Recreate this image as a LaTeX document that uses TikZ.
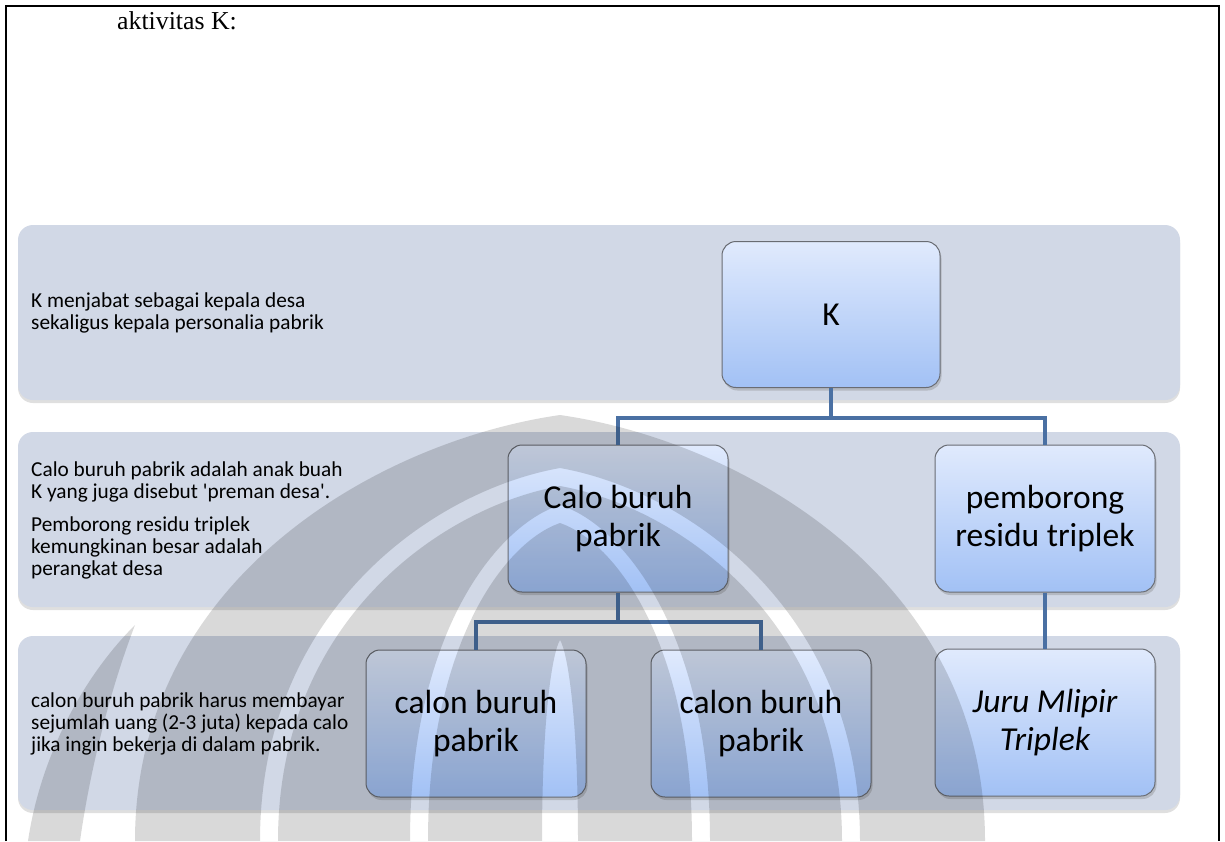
\documentclass[tikz,border=0pt]{standalone}
\usepackage{fontspec}
\setmainfont{Carlito}
\newfontfamily\serifface{Liberation Serif}
\usetikzlibrary{shadows}

\definecolor{bandfill}{RGB}{209,216,230}
\definecolor{boxtop}{RGB}{224,234,253}
\definecolor{boxbot}{RGB}{162,193,245}
\definecolor{boxline}{RGB}{105,108,115}
\definecolor{linkblue}{RGB}{74,112,163}

\tikzset{
  band/.style={fill=bandfill, rounded corners=15pt, inner sep=0pt,
    drop shadow={shadow xshift=0pt, shadow yshift=-3pt, opacity=0.25}},
  bandtext/.style={anchor=west, align=left, inner sep=0pt, text=black,
    font=\fontsize{21.3}{22}\selectfont},
  orgbox/.style={draw=boxline, line width=1pt, rounded corners=14pt,
    top color=boxtop, bottom color=boxbot, inner sep=0pt,
    minimum width=220pt, minimum height=147pt, align=center,
    font=\fontsize{33.5}{38}\selectfont,
    drop shadow={shadow xshift=1.5pt, shadow yshift=-3pt, opacity=0.35}},
  link/.style={draw=linkblue, line width=4pt, line join=miter},
  pageframe/.style={draw=black, line width=2.5pt},
  % flame outline of the faint background emblem: centre x, half width at the foot, apex y
  wmflame/.style n args={3}{insert path={
    ({#1-#2},841)
    .. controls ({#1-#2},{841-0.62*(841-#3)}) and ({#1-0.42*#2},{#3+0.06*(841-#3)}) .. ({#1},#3)
    .. controls ({#1+0.42*#2},{#3+0.06*(841-#3)}) and ({#1+#2},{841-0.62*(841-#3)}) .. ({#1+#2},841)
    -- cycle}},
}

\begin{document}
\begin{tikzpicture}[x=1pt, y=-1pt]
\useasboundingbox (0,0) rectangle (1225,841);
\fill[white] (0,0) rectangle (1225,841);

% page frame
\draw[pageframe] (6,841) -- (6,6) -- (1219,6) -- (1219,841);

% heading
\node[anchor=base west, inner sep=0pt, font=\serifface\fontsize{25.8}{30}\selectfont] (title) at (117,29) {aktivitas K:};

% level bands
\node[band, minimum width=1162pt, minimum height=175pt] (band1) at (599,312.5) {};
\node[band, minimum width=1162pt, minimum height=175pt] (band2) at (599,519.5) {};
\node[band, minimum width=1162pt, minimum height=174pt] (band3) at (599,723) {};

% band notes
\node[bandtext] (note1) at (31,313) {K menjabat sebagai kepala desa\\sekaligus kepala personalia pabrik};
\node[bandtext] (note2) at (31,520) {Calo buruh pabrik adalah anak buah\\K yang juga disebut \textquotesingle preman desa\textquotesingle.\\[11pt]Pemborong residu triplek\\kemungkinan besar adalah\\perangkat desa};
\node[bandtext] (note3) at (31,724) {calon buruh pabrik harus membayar\\sejumlah uang (2-3 juta) kepada calo\\jika ingin bekerja di dalam pabrik.};

% bus levels
\coordinate (bus1) at (0,418);
\coordinate (bus2) at (0,622);

% box centres
\path (831,314.5) coordinate (Kc) (618,518.5) coordinate (caloc) (1045,518.5) coordinate (pembc)
      (476,723.5) coordinate (calon1c) (761,723.5) coordinate (calon2c) (1045,722.5) coordinate (juruc);

% boxes
\node[orgbox, minimum width=218pt, minimum height=146pt] (K) at (Kc) {K};
\node[orgbox] (calo) at (caloc) {Calo buruh\\pabrik};
\node[orgbox] (pemb) at (pembc) {pemborong\\residu triplek};
\node[orgbox] (calon1) at (calon1c) {calon buruh\\pabrik};
\node[orgbox] (calon2) at (calon2c) {calon buruh\\pabrik};
\node[orgbox, font=\fontsize{33.5}{38}\selectfont\itshape] (juru) at (juruc) {Juru Mlipir\\Triplek};

% connectors
\draw[link] (K.south) -- (K.south |- bus1);
\draw[link] (calo.north) |- (K.south |- bus1) -| (pemb.north);
\draw[link] (calo.south) -- (calo.south |- bus2);
\draw[link] (calon1.north) |- (calo.south |- bus2) -| (calon2.north);
\draw[link] (pemb.south) -- (juru.north);

% faint emblem in the background
\fill[black, fill opacity=0.15, even odd rule]
  [wmflame={560}{425}{415}]
  [wmflame={560}{300}{468}]
  [wmflame={560}{282}{486}]
  [wmflame={560}{150}{505}]
  [wmflame={560}{132}{523}]
  [wmflame={560}{18}{640}];
% outer left wing
\fill[black, fill opacity=0.15]
  (28,841) .. controls (40,760) and (80,680) .. (135,625)
  .. controls (110,690) and (90,770) .. (80,841) -- cycle;
\end{tikzpicture}
\end{document}
